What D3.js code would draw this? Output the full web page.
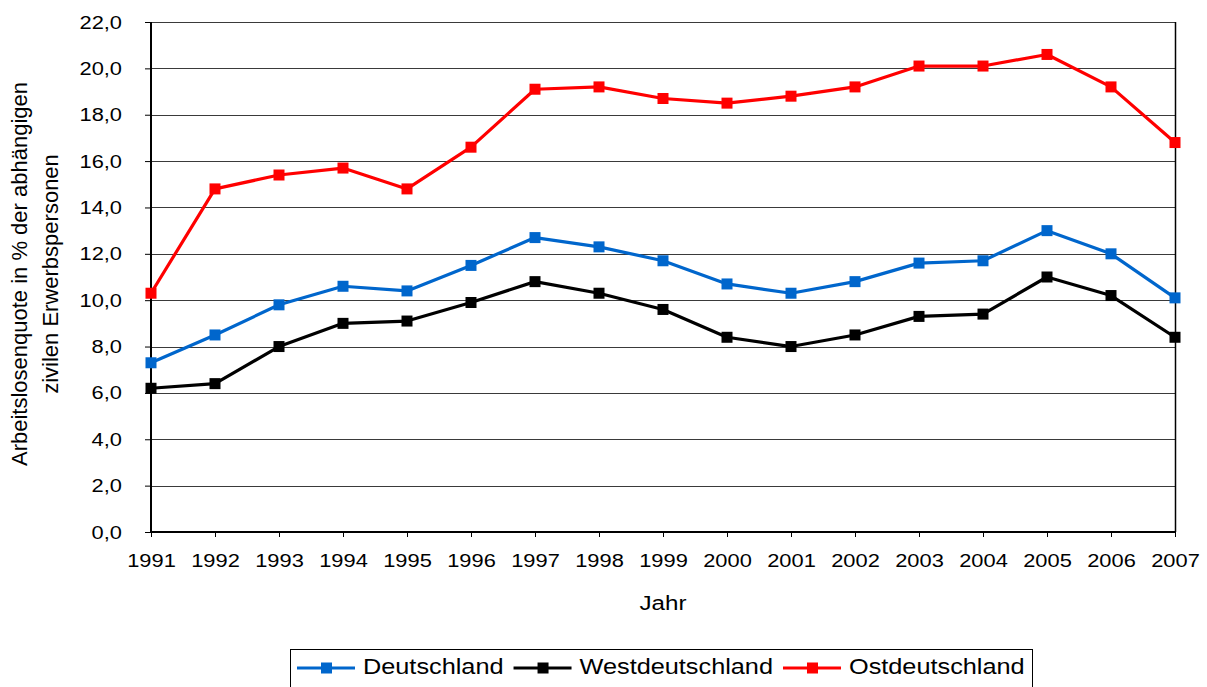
<!DOCTYPE html>
<html>
<head>
<meta charset="utf-8">
<script src="https://cdn.jsdelivr.net/npm/d3@7"></script>
<style>
  body { margin: 0; background: #fff; }
  svg { font-family: "Liberation Sans", Arial, sans-serif; }
</style>
</head>
<body>
<svg class="root"></svg>
<script>
var years = [1991, 1992, 1993, 1994, 1995, 1996, 1997, 1998, 1999, 2000, 2001, 2002, 2003, 2004, 2005, 2006, 2007];
var deutschland = [7.3, 8.5, 9.8, 10.6, 10.4, 11.5, 12.7, 12.3, 11.7, 10.7, 10.3, 10.8, 11.6, 11.7, 13.0, 12.0, 10.1];
var west = [6.2, 6.4, 8.0, 9.0, 9.1, 9.9, 10.8, 10.3, 9.6, 8.4, 8.0, 8.5, 9.3, 9.4, 11.0, 10.2, 8.4];
var ost = [10.3, 14.8, 15.4, 15.7, 14.8, 16.6, 19.1, 19.2, 18.7, 18.5, 18.8, 19.2, 20.1, 20.1, 20.6, 19.2, 16.8];
var yTicks = [0, 2, 4, 6, 8, 10, 12, 14, 16, 18, 20, 22];

var series = [
  { name: "Deutschland", values: deutschland, color: "#0066cc" },
  { name: "Westdeutschland", values: west, color: "#000000" },
  { name: "Ostdeutschland", values: ost, color: "#ff0000" }
];

// the original text looks a bit wider than Liberation Sans
var STRETCH = 1.15;
function stretch(sel) {
  sel.each(function() {
    var t = d3.select(this),
        x0 = +t.attr("x") || 0;
    t.attr("x", x0 / STRETCH)
     .attr("transform", "scale(" + STRETCH + ",1)");
  });
}

var margin = {top: 22, right: 32, bottom: 155, left: 151},
  width = 1207 - margin.left - margin.right,
  height = 687 - margin.top - margin.bottom;

var svg = d3.select(".root")
  .attr("width", 1207)
  .attr("height", 687);

var chart = svg.append("g")
  .attr("transform", "translate(" + margin.left + "," + margin.top + ")");

var x = d3.scaleLinear()
  .domain([1991, 2007])
  .range([0, width]);

var y = d3.scaleLinear()
  .domain([0, 22])
  .range([height, 0]);

var fmt = function(d) { return d3.format(".1f")(d).replace(".", ","); };

// gridlines
chart.append("g")
  .attr("class", "grid")
  .selectAll("line")
  .data(yTicks.slice(1))
  .enter().append("line")
    .attr("x1", 0)
    .attr("x2", width)
    .attr("y1", function(d) { return Math.round(y(d)) + 0.5; })
    .attr("y2", function(d) { return Math.round(y(d)) + 0.5; })
    .attr("stroke", "#3a3a3a")
    .attr("stroke-width", 1);

// right border
chart.append("line")
  .attr("x1", width + 0.5).attr("x2", width + 0.5)
  .attr("y1", 0).attr("y2", height)
  .attr("stroke", "#000").attr("stroke-width", 1.5);

var yAxis = d3.axisLeft(y)
  .tickValues(yTicks)
  .tickFormat(fmt)
  .tickSize(6)
  .tickPadding(23);

var xAxis = d3.axisBottom(x)
  .tickValues(years)
  .tickFormat(d3.format("d"))
  .tickSize(5)
  .tickPadding(17);

var gy = chart.append("g").call(yAxis);
var gx = chart.append("g")
  .attr("transform", "translate(0," + height + ")")
  .call(xAxis);

[gx, gy].forEach(function(g) {
  g.select(".domain").attr("stroke", "#000").attr("stroke-width", 2);
  g.selectAll(".tick line").attr("stroke", "#000").attr("stroke-width", 1);
  g.selectAll(".tick text")
    .attr("fill", "#000")
    .style("font-size", "19px")
    .style("font-family", "'Liberation Sans', Arial, sans-serif")
    .call(stretch);
});
gx.select(".domain").attr("d", "M0,0H" + width);
gy.select(".domain").attr("d", "M0,0V" + height);

var line = d3.line()
  .x(function(d, i) { return x(years[i]); })
  .y(function(d) { return y(d); });

series.forEach(function(s) {
  chart.append("path")
    .datum(s.values)
    .attr("fill", "none")
    .attr("stroke", s.color)
    .attr("stroke-width", 3.2)
    .attr("stroke-linejoin", "round")
    .attr("d", line);

  chart.selectAll(".m-" + s.name)
    .data(s.values)
    .enter().append("rect")
      .attr("x", function(d, i) { return x(years[i]) - 5.5; })
      .attr("y", function(d) { return y(d) - 5.5; })
      .attr("width", 11)
      .attr("height", 11)
      .attr("fill", s.color);
});

// axis titles
var yl = svg.append("text")
  .attr("transform", "translate(27,274) rotate(-90)")
  .attr("text-anchor", "middle")
  .style("font-size", "22px")
  .attr("fill", "#000");
yl.append("tspan").attr("x", 0).attr("dy", 0).text("Arbeitslosenquote in % der abhängigen");
yl.append("tspan").attr("x", 0).attr("dy", 31).text("zivilen Erwerbspersonen");

svg.append("text")
  .attr("x", margin.left + width / 2)
  .attr("y", 610)
  .attr("text-anchor", "middle")
  .style("font-size", "21px")
  .attr("fill", "#000")
  .text("Jahr")
  .call(stretch);

// legend
var legend = svg.append("g");
legend.append("rect")
  .attr("x", 290.5).attr("y", 649.5)
  .attr("width", 742).attr("height", 50)
  .attr("fill", "#fff")
  .attr("stroke", "#000").attr("stroke-width", 1);

var lx = 297;
series.forEach(function(s) {
  var g = legend.append("g").attr("transform", "translate(" + lx + ",668)");
  g.append("line").attr("x1", 0).attr("x2", 58).attr("y1", 0).attr("y2", 0)
    .attr("stroke", s.color).attr("stroke-width", 3.2);
  g.append("rect").attr("x", 24).attr("y", -5.5).attr("width", 11).attr("height", 11)
    .attr("fill", s.color);
  var t = g.append("text").attr("x", 66).attr("y", 6)
    .style("font-size", "22px")
    .attr("fill", "#000")
    .text(s.name)
    .call(stretch);
  lx += 66 + t.node().getComputedTextLength() * STRETCH + 10;
});
</script>
</body>
</html>
